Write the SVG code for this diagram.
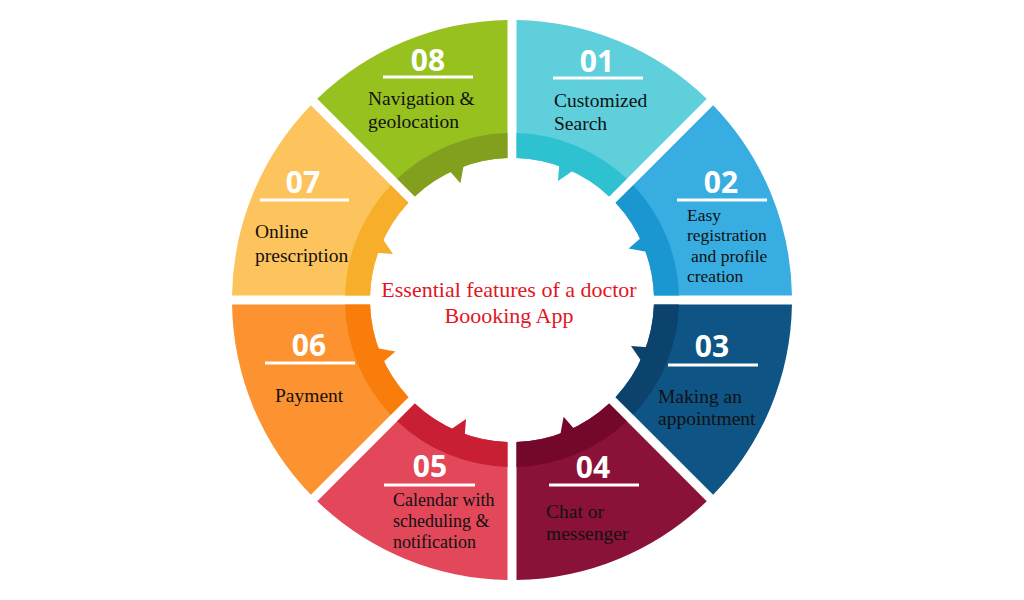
<svg xmlns="http://www.w3.org/2000/svg" xmlns:xlink="http://www.w3.org/1999/xlink" width="1024" height="600" viewBox="0 0 1024 600">
<style>
.num{font-family:"Open Sans","Liberation Sans",sans-serif;font-weight:700;font-size:30px;fill:#fff;text-anchor:middle}
.ul{stroke:#fff;stroke-width:3}
.lbl{font-family:"Liberation Serif","Times New Roman",serif;font-size:19.5px;fill:#111}
.sm{font-size:17.5px}
.md{font-size:18px}
.ctr{font-family:"Liberation Serif","Times New Roman",serif;font-size:22px;fill:#e3151f;text-anchor:middle}
</style>
<defs>
<path id="sec" d="M4.5,-279.96 A280,280 0 0 1 194.78,-201.15 L97.18,-103.54 A142,142 0 0 0 4.5,-141.93 Z"/>
<g id="band">
<path d="M4.5,-166.94 A167,167 0 0 1 114.86,-121.23 L97.18,-103.54 A142,142 0 0 0 4.5,-141.93 Z"/>
<path d="M47.3,-136 L46,-119 L62,-130 Z"/>
</g>
</defs>
<rect width="1024" height="600" fill="#fff"/>
<g id="node-01">
<g transform="translate(512,300) rotate(0)"><use xlink:href="#sec" fill="#5ecfdb"/><use xlink:href="#band" fill="#2ec2d0"/></g>
<text class="num" x="597" y="72">01</text><line class="ul" x1="553" y1="78" x2="643" y2="78"/>
<text class="lbl" x="554" y="107">Customized</text><text class="lbl" x="554" y="130">Search</text>
</g>
<g id="node-02">
<g transform="translate(512,300) rotate(45)"><use xlink:href="#sec" fill="#38ade2"/><use xlink:href="#band" fill="#1a96d0"/></g>
<text class="num" x="721" y="193">02</text><line class="ul" x1="677" y1="200" x2="767" y2="200"/>
<text class="lbl sm" x="687" y="221">Easy</text><text class="lbl sm" x="687" y="241">registration</text><text class="lbl sm" x="691" y="262">and profile</text><text class="lbl sm" x="687" y="282">creation</text>
</g>
<g id="node-03">
<g transform="translate(512,300) rotate(90)"><use xlink:href="#sec" fill="#0e5485"/><use xlink:href="#band" fill="#0b436d"/></g>
<text class="num" x="712" y="357">03</text><line class="ul" x1="668" y1="365" x2="758" y2="365"/>
<text class="lbl" x="658" y="403">Making an</text><text class="lbl" x="658" y="425">appointment</text>
</g>
<g id="node-04">
<g transform="translate(512,300) rotate(135)"><use xlink:href="#sec" fill="#8a1239"/><use xlink:href="#band" fill="#74082b"/></g>
<text class="num" x="593" y="478">04</text><line class="ul" x1="549" y1="485" x2="639" y2="485"/>
<text class="lbl" x="546" y="518">Chat or</text><text class="lbl" x="546" y="540">messenger</text>
</g>
<g id="node-05">
<g transform="translate(512,300) rotate(180)"><use xlink:href="#sec" fill="#e2475a"/><use xlink:href="#band" fill="#c91f35"/></g>
<text class="num" x="430" y="477">05</text><line class="ul" x1="384" y1="485" x2="475" y2="485"/>
<text class="lbl md" x="393" y="506">Calendar with</text><text class="lbl md" x="393" y="527">scheduling &amp;</text><text class="lbl md" x="393" y="548">notification</text>
</g>
<g id="node-06">
<g transform="translate(512,300) rotate(225)"><use xlink:href="#sec" fill="#fc9230"/><use xlink:href="#band" fill="#f97d0b"/></g>
<text class="num" x="309" y="356">06</text><line class="ul" x1="265" y1="363" x2="355" y2="363"/>
<text class="lbl" x="275" y="402">Payment</text>
</g>
<g id="node-07">
<g transform="translate(512,300) rotate(270)"><use xlink:href="#sec" fill="#fdc35c"/><use xlink:href="#band" fill="#f7ae2a"/></g>
<text class="num" x="303" y="193">07</text><line class="ul" x1="260" y1="200" x2="349" y2="200"/>
<text class="lbl" x="255" y="238">Online</text><text class="lbl" x="255" y="262">prescription</text>
</g>
<g id="node-08">
<g transform="translate(512,300) rotate(315)"><use xlink:href="#sec" fill="#97c11f"/><use xlink:href="#band" fill="#829f1e"/></g>
<text class="num" x="428" y="71">08</text><line class="ul" x1="383" y1="77" x2="473" y2="77"/>
<text class="lbl" x="368" y="105">Navigation &amp;</text><text class="lbl" x="368" y="128">geolocation</text>
</g>
<g id="center">
<text class="ctr" x="509" y="297">Essential features of a doctor</text>
<text class="ctr" x="509" y="323">Boooking App</text>
</g>
<g id="connectors"/>
</svg>
